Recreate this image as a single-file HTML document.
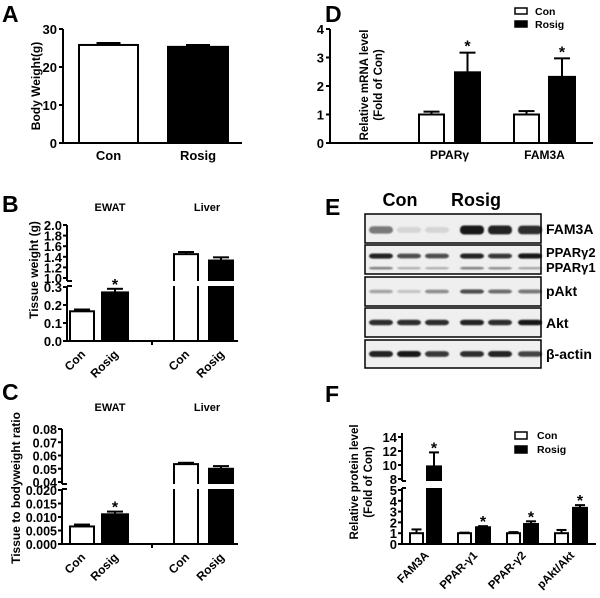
<!DOCTYPE html>
<html><head><meta charset="utf-8">
<style>
html,body{margin:0;padding:0;background:#fff;}
svg{display:block;font-family:"Liberation Sans",sans-serif;font-weight:bold;}
</style></head>
<body>
<svg id="fig" width="600" height="598" viewBox="0 0 600 598" xmlns="http://www.w3.org/2000/svg">
<defs><filter id="blur" x="-20%" y="-100%" width="140%" height="300%"><feGaussianBlur stdDeviation="0.9"/></filter></defs>
</svg>
<script>
// ---- data ----
const aCats = ["Con","Rosig"];
const aVals = [25.8, 25.3];
const aErrs = [0.5, 0.5];
const aTicks = [0,10,20,30];

const bCats = ["Con","Rosig","Con","Rosig"];
const bVals = [0.165, 0.27, 1.45, 1.33];
const bErrs = [0.01, 0.02, 0.04, 0.06];
const bStar = [false, true, false, false];
const bTicksLow = ["0.0","0.1","0.2","0.3"];
const bTicksHigh = ["1.0","1.2","1.4","1.6","1.8","2.0"];

const cCats = ["Con","Rosig","Con","Rosig"];
const cVals = [0.0065, 0.011, 0.0535, 0.050];
const cErrs = [0.0007, 0.001, 0.001, 0.002];
const cStar = [false, true, false, false];
const cTicksLow = ["0.000","0.005","0.010","0.015","0.020"];
const cTicksHigh = ["0.04","0.05","0.06","0.07","0.08"];

const dCats = ["PPARγ","FAM3A"];
const dCon = [1.0, 1.0];
const dConErr = [0.1, 0.12];
const dRos = [2.48, 2.32];
const dRosErr = [0.69, 0.65];
const dTicks = [0,1,2,3,4];

const fCats = ["FAM3A","PPAR-γ1","PPAR-γ2","pAkt/Akt"];
const fCon = [1.0, 1.0, 1.0, 1.0];
const fConErr = [0.35, 0.05, 0.1, 0.3];
const fRos = [9.8, 1.55, 1.85, 3.35];
const fRosErr = [2.0, 0.1, 0.25, 0.25];
const fTicksLow = ["0","1","2","3","4","5"];
const fTicksHigh = ["8","10","12","14"];

const blotFam3a = [0.55,0.12,0.12,1,0.95,0.9];
const blotPpar2 = [0.95,0.75,0.75,0.95,0.85,1];
const blotPpar1 = [0.5,0.3,0.3,0.5,0.45,0.35];
const blotPakt = [0.35,0.2,0.45,0.75,0.6,0.55];
const blotAkt = [0.9,0.9,0.9,0.95,0.9,1];
const blotActin = [0.95,1,0.85,0.9,0.95,0.8];

// ---- helpers ----
const svg = document.getElementById('fig');
const NS = "http://www.w3.org/2000/svg";
function mk(tag, attrs, parent){
  const e = document.createElementNS(NS, tag);
  for (const k in attrs) e.setAttribute(k, attrs[k]);
  (parent||svg).appendChild(e);
  return e;
}
function txt(s, x, y, size, anchor, parent, extra){
  const t = mk('text', Object.assign({x:x, y:y, 'font-size':size, 'text-anchor':anchor||'middle', fill:'#000'}, extra||{}), parent);
  t.textContent = s;
  return t;
}
function linear(v0,v1,p0,p1){ return v => p0 + (v-v0)/(v1-v0)*(p1-p0); }
function broken(lo, hi){
  const fl = linear(lo.v0,lo.v1,lo.p0,lo.p1), fh = linear(hi.v0,hi.v1,hi.p0,hi.p1);
  return v => v <= lo.v1 ? fl(v) : (v < hi.v0 ? hi.p0 : fh(v));
}
function bar(g, x0, x1, y0, yv, filled, name){
  const r = mk('rect', {x:x0, y:Math.min(y0,yv), width:x1-x0, height:Math.abs(y0-yv), fill: filled?'#000':'#fff', stroke:'#000','stroke-width':2}, g);
  
  
  return r;
}
function errbar(g, xc, yv, ye, w){
  mk('line',{x1:xc,x2:xc,y1:yv,y2:ye,stroke:'#000','stroke-width':2},g);
  mk('line',{x1:xc-w,x2:xc+w,y1:ye,y2:ye,stroke:'#000','stroke-width':2},g);
}
function group(name){
  const g = mk('g',{});
  
  
  return g;
}

[["A",2,22],["B",2,212],["C",2,400],["D",325,22],["E",325,215],["F",325,402]].forEach(p=>{
  const t = txt(p[0], p[1], p[2], 23, 'start');
  
  
});

// ---- Panel A ----
(function(){
  const g = group('panel-a-body-weight-chart');
  const y = linear(0,30,143,29);
  const ax = 63;
  mk('line',{x1:ax,x2:ax,y1:y(30),y2:y(0)+1,stroke:'#000','stroke-width':2},g);
  mk('line',{x1:ax,x2:242,y1:y(0),y2:y(0),stroke:'#000','stroke-width':2},g);
  aTicks.forEach(t=>{
    mk('line',{x1:ax-4,x2:ax,y1:y(t),y2:y(t),stroke:'#000','stroke-width':2},g);
    txt(String(t), ax-6, y(t)+5, 13, 'end', g);
  });
  const xs = [[79,138],[168,228]];
  aCats.forEach((c,i)=>{
    const xc=(xs[i][0]+xs[i][1])/2;
    errbar(g, xc, y(aVals[i]), y(aVals[i]+aErrs[i]), 12);
    bar(g, xs[i][0], xs[i][1], y(0), y(aVals[i]), i===1, 'bar-a-'+c.toLowerCase());
    txt(c, xc, 160, 13, 'middle', g);
  });
  txt("Body Weight(g)", 0,0, 12, 'middle', g, {transform:'translate(40,86) rotate(-90)'});
})();

// ---- broken-axis tissue panels (B, C) ----
function tissuePanel(name, oy, ax, y, lowTicks, highTicks, gapTop, gapBot, cats, vals, errs, stars, ylabel, ylabelX, ylabelY, tickSize, xlabY){
  const g = group(name);
  const xs = [[70,94],[102,128],[174,198],[209,233]];
  cats.forEach((c,i)=>{
    const xc=(xs[i][0]+xs[i][1])/2;
    errbar(g, xc, y(vals[i]), y(vals[i]+errs[i]), 8);
    bar(g, xs[i][0], xs[i][1], y(0), y(vals[i]), i%2===1, 'bar-'+name.slice(0,7)+'-'+i);
    txt(c, 0, 0, 12, 'end', g, {transform:`translate(${xc+4},${xlabY}) rotate(-45)`});
  });
  mk('rect',{x:ax-1,y:gapTop,width:240-ax,height:gapBot-gapTop,fill:'#fff'},g);
  cats.forEach((c,i)=>{
    const xc=(xs[i][0]+xs[i][1])/2;
    if (stars[i]) txt('*', xc, y(vals[i]+errs[i])+1, 16, 'middle', g);
  });
  mk('line',{x1:ax,x2:ax,y1:y(parseFloat(highTicks[highTicks.length-1])),y2:gapTop,stroke:'#000','stroke-width':2},g);
  mk('line',{x1:ax,x2:ax,y1:gapBot,y2:y(0)+1,stroke:'#000','stroke-width':2},g);
  mk('line',{x1:ax,x2:ax+5,y1:gapTop,y2:gapTop,stroke:'#000','stroke-width':2},g);
  mk('line',{x1:ax,x2:ax+5,y1:gapBot,y2:gapBot,stroke:'#000','stroke-width':2},g);
  mk('line',{x1:ax,x2:238,y1:y(0),y2:y(0),stroke:'#000','stroke-width':2},g);
  mk('line',{x1:152,x2:152,y1:y(0),y2:y(0)+4,stroke:'#000','stroke-width':2},g);
  lowTicks.concat(highTicks).forEach(t=>{
    const v=parseFloat(t);
    mk('line',{x1:ax-4,x2:ax,y1:y(v),y2:y(v),stroke:'#000','stroke-width':2},g);
    txt(t, ax-5, y(v)+5, tickSize, 'end', g);
  });
  txt("EWAT", 110, oy+21, 11, 'middle', g);
  txt("Liver", 207, oy+21, 11, 'middle', g);
  txt(ylabel, 0,0, 12, 'middle', g, {transform:`translate(${ylabelX},${ylabelY}) rotate(-90)`});
}
tissuePanel('panel-b-tissue-weight-chart', 190, 67,
  broken({v0:0,v1:0.3,p0:341,p1:287},{v0:1.0,v1:2.0,p0:278,p1:225}),
  bTicksLow, bTicksHigh, 281, 286, bCats, bVals, bErrs, bStar, "Tissue weight (g)", 38, 270, 13, 355);
tissuePanel('panel-c-tissue-ratio-chart', 390, 62,
  broken({v0:0,v1:0.02,p0:544,p1:490},{v0:0.04,v1:0.08,p0:482,p1:429}),
  cTicksLow, cTicksHigh, 484, 489, cCats, cVals, cErrs, cStar, "Tissue to bodyweight ratio", 20, 488, 12.5, 558);

// ---- Panel D ----
(function(){
  const g = group('panel-d-mrna-chart');
  const y = linear(0,4,143,29);
  const ax = 330;
  mk('line',{x1:ax,x2:ax,y1:y(4),y2:y(0)+1,stroke:'#000','stroke-width':2},g);
  mk('line',{x1:ax,x2:593,y1:y(0),y2:y(0),stroke:'#000','stroke-width':2},g);
  dTicks.forEach(t=>{
    mk('line',{x1:ax-4,x2:ax,y1:y(t),y2:y(t),stroke:'#000','stroke-width':2},g);
    txt(String(t), ax-6, y(t)+5, 13, 'end', g);
  });
  const cx=[[419,444],[514,539]], rx=[[455,480],[549,575]];
  dCats.forEach((c,i)=>{
    errbar(g,(cx[i][0]+cx[i][1])/2,y(dCon[i]),y(dCon[i]+dConErr[i]),8);
    errbar(g,(rx[i][0]+rx[i][1])/2,y(dRos[i]),y(dRos[i]+dRosErr[i]),8);
    bar(g,cx[i][0],cx[i][1],y(0),y(dCon[i]),false,'bar-d-con-'+i);
    bar(g,rx[i][0],rx[i][1],y(0),y(dRos[i]),true,'bar-d-rosig-'+i);
    txt('*',(rx[i][0]+rx[i][1])/2,y(dRos[i]+dRosErr[i])-1,16,'middle',g);
    txt(c,(cx[i][0]+rx[i][1])/2,159,12,'middle',g);
  });
  mk('rect',{x:515,y:8,width:12,height:6,fill:'#fff',stroke:'#000','stroke-width':1.5},g);
  mk('rect',{x:515,y:21,width:12,height:6,fill:'#000',stroke:'#000','stroke-width':1.5},g);
  txt('Con',535,15,10.5,'start',g); txt('Rosig',535,28,10.5,'start',g);
  txt("Relative mRNA level",0,0,11.5,'middle',g,{transform:'translate(368,85) rotate(-90)'});
  txt("(Fold of Con)",0,0,11.5,'middle',g,{transform:'translate(382,85) rotate(-90)'});
})();

// ---- Panel E (western blots) ----
(function(){
  const g = group('panel-e-western-blot');
  txt('Con',400,206,18,'middle',g);
  txt('Rosig',476,206,18,'middle',g);
  const lanes=[381,409,437,472,500,530];
  const rows=[[214,243],[245,274],[277,306],[308,337],[340,368]];
  const bandSets=[[[blotFam3a,0.55,4.5]],[[blotPpar2,0.38,2.6],[blotPpar1,0.8,1.6]],[[blotPakt,0.5,2.4]],[[blotAkt,0.5,2.8]],[[blotActin,0.5,3]]];
  rows.forEach((r,ri)=>{
    const bg = mk('rect',{x:365,y:r[0],width:176,height:r[1]-r[0],fill:'#efefef',stroke:'#000','stroke-width':1.5},g);
    
    
    bandSets[ri].forEach(bs=>{
      const arr=bs[0], yc=r[0]+(r[1]-r[0])*bs[1], h=bs[2];
      arr.forEach((v,li)=>{
        mk('rect',{x:lanes[li]-12,y:yc-h*(0.6+0.4*v),width:24,height:2*h*(0.6+0.4*v),rx:4,fill:'#000','fill-opacity':Math.min(1,v*0.9),filter:'url(#blur)'},g);
      });
    });
  });
  txt('FAM3A',546,234,14,'start',g);
  txt('PPARγ2',546,257,13,'start',g);
  txt('PPARγ1',546,272,13,'start',g);
  txt('pAkt',546,296,14,'start',g);
  txt('Akt',546,328,14,'start',g);
  txt('β-actin',546,359,14,'start',g);
})();

// ---- Panel F ----
(function(){
  const g = group('panel-f-protein-chart');
  const y = broken({v0:0,v1:5,p0:544,p1:490},{v0:8,v1:14,p0:479,p1:437});
  const ax=402;
  const cx=[[410,423],[458,471],[507,520],[555,568]], rx=[[427,441],[476,490],[524,538],[573,587]];
  fCats.forEach((c,i)=>{
    errbar(g,(cx[i][0]+cx[i][1])/2,y(fCon[i]),y(fCon[i]+fConErr[i]),5);
    errbar(g,(rx[i][0]+rx[i][1])/2,y(fRos[i]),y(fRos[i]+fRosErr[i]),5);
    bar(g,cx[i][0],cx[i][1],y(0),y(fCon[i]),false,'bar-f-con-'+i);
    bar(g,rx[i][0],rx[i][1],y(0),y(fRos[i]),true,'bar-f-rosig-'+i);
    txt(c,0,0,11.5,'end',g,{transform:`translate(${(cx[i][0]+rx[i][1])/2+4},556) rotate(-45)`});
  });
  mk('rect',{x:ax-1,y:481,width:200,height:7,fill:'#fff'},g);
  fCats.forEach((c,i)=>{
    txt('*',(rx[i][0]+rx[i][1])/2,y(fRos[i]+fRosErr[i])+1,16,'middle',g);
  });
  mk('line',{x1:ax,x2:ax,y1:y(14)-4,y2:481,stroke:'#000','stroke-width':2},g);
  mk('line',{x1:ax,x2:ax,y1:488,y2:y(0)+1,stroke:'#000','stroke-width':2},g);
  mk('line',{x1:ax,x2:ax+4,y1:481,y2:481,stroke:'#000','stroke-width':2},g);
  mk('line',{x1:ax,x2:ax+4,y1:488,y2:488,stroke:'#000','stroke-width':2},g);
  mk('line',{x1:ax,x2:596,y1:y(0),y2:y(0),stroke:'#000','stroke-width':2},g);
  fTicksLow.concat(fTicksHigh).forEach(t=>{
    const v=parseFloat(t);
    mk('line',{x1:ax-4,x2:ax,y1:y(v),y2:y(v),stroke:'#000','stroke-width':2},g);
    txt(t,ax-5,y(v)+5,13,'end',g);
  });
  mk('rect',{x:515,y:432,width:12,height:7,fill:'#fff',stroke:'#000','stroke-width':1.5},g);
  mk('rect',{x:515,y:446,width:12,height:7,fill:'#000',stroke:'#000','stroke-width':1.5},g);
  txt('Con',537,439,10.5,'start',g); txt('Rosig',537,453,10.5,'start',g);
  txt("Relative protein level",0,0,11.5,'middle',g,{transform:'translate(358,482) rotate(-90)'});
  txt("(Fold of Con)",0,0,11.5,'middle',g,{transform:'translate(372,482) rotate(-90)'});
})();
</script>
</body></html>
